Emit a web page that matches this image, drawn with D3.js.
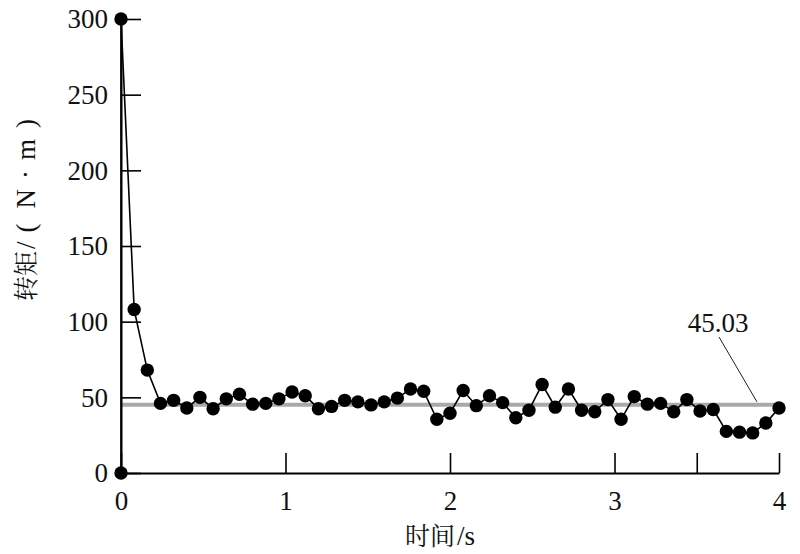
<!DOCTYPE html>
<html>
<head>
<meta charset="utf-8">
<script src="https://cdn.jsdelivr.net/npm/d3@7"></script>
<style>
  html, body { margin: 0; padding: 0; background: #fff; }
  svg { display: block; }
</style>
</head>
<body>
<svg id="chart" width="800" height="554"></svg>
<script>
// ---- data ----
const times = [0, 0, 0.08, 0.16, 0.24, 0.32, 0.40, 0.48, 0.56, 0.64, 0.72, 0.80, 0.88, 0.96,
  1.04, 1.12, 1.20, 1.28, 1.36, 1.44, 1.52, 1.60, 1.68, 1.76, 1.84, 1.92, 2.00, 2.08, 2.16,
  2.24, 2.32, 2.40, 2.48, 2.56, 2.64, 2.72, 2.80, 2.88, 2.96, 3.04, 3.12, 3.20, 3.28, 3.36,
  3.44, 3.52, 3.60, 3.68, 3.76, 3.84, 3.92, 4.00];
const torque = [0, 300, 108, 68, 46, 48, 43, 50, 42.5, 49, 52, 45.5, 46, 49,
  53.5, 51, 42.5, 44, 48, 47, 45, 47, 49.5, 55.5, 54, 35.5, 39.5, 54.5, 44.5, 51, 46.5,
  36.5, 41.5, 58.5, 43.5, 55.5, 41.5, 40.5, 48.5, 35.5, 50.5, 45.5, 46, 40.5, 48.5, 41,
  42, 27.5, 27, 26.5, 33, 43];
const meanValue = 45.03;
const meanLabel = "45.03";
const xTicks = [0, 1, 2, 3, 3.5, 4];
const xTickLabels = ["0", "1", "2", "3", "", "4"];
const yTicks = [0, 50, 100, 150, 200, 250, 300];
const yTickLabels = ["0", "50", "100", "150", "200", "250", "300"];
const xTitle = ["时间", "/s"];
const yTitleCjk = "转矩";
const yTitleParts = ["/", "(", "N", "·", "m", ")"];

// ---- layout ----
const svg = d3.select("#chart");
const x = d3.scaleLinear().domain([0, 4]).range([121, 779]);
const y = d3.scaleLinear().domain([0, 300]).range([473, 19]);
const SERIF = '"Liberation Serif"';
const CJK = '"Noto Serif CJK SC"';

// mean line
svg.append("line")
  .attr("x1", x(0)).attr("x2", x(4))
  .attr("y1", y(meanValue)).attr("y2", y(meanValue))
  .attr("stroke", "#a9a9a9").attr("stroke-width", 4);

// axes
const xAxis = d3.axisBottom(x).tickValues(xTicks)
  .tickSizeInner(-20).tickSizeOuter(0)
  .tickFormat((d, i) => xTickLabels[i]).tickPadding(14);
const gx = svg.append("g").attr("transform", `translate(0,${y(0)})`).call(xAxis);
gx.select(".domain").attr("stroke", "#000").attr("stroke-width", 2);
gx.selectAll(".tick line").attr("stroke", "#000").attr("stroke-width", 1.6);
gx.selectAll(".tick text").style("font-family", SERIF).style("font-size", "27px")
  .attr("fill", "#111").attr("dy", "0.85em");

const yAxis = d3.axisLeft(y).tickValues(yTicks)
  .tickSizeInner(-20).tickSizeOuter(0)
  .tickFormat((d, i) => yTickLabels[i]).tickPadding(13);
const gy = svg.append("g").attr("transform", `translate(${x(0)},0)`).call(yAxis);
gy.select(".domain").attr("stroke", "#000").attr("stroke-width", 2);
gy.selectAll(".tick line").attr("stroke", "#000").attr("stroke-width", 1.6);
gy.selectAll(".tick text").style("font-family", SERIF).style("font-size", "27px")
  .attr("fill", "#111").attr("dy", "0.33em");

// data line + points
const pts = times.map((t, i) => ({ t, v: torque[i] }));
svg.append("path").datum(pts)
  .attr("fill", "none").attr("stroke", "#000").attr("stroke-width", 1.6)
  .attr("d", d3.line().x(d => x(d.t)).y(d => y(d.v)));
svg.append("g").selectAll("circle").data(pts).join("circle")
  .attr("cx", d => x(d.t)).attr("cy", d => y(d.v)).attr("r", 6.7).attr("fill", "#000");

// annotation
svg.append("line")
  .attr("x1", 719).attr("y1", 337)
  .attr("x2", x(3.866)).attr("y2", y(meanValue) - 3)
  .attr("stroke", "#222").attr("stroke-width", 1);
svg.append("text").attr("x", 718).attr("y", 332).attr("text-anchor", "middle")
  .style("font-family", SERIF).style("font-size", "27px")
  .attr("fill", "#111").text(meanLabel);

// axis titles
const xt = svg.append("text").attr("x", 440).attr("y", 545).attr("text-anchor", "middle")
  .attr("fill", "#111");
xt.append("tspan").style("font-family", CJK).style("font-size", "25px").text(xTitle[0]);
xt.append("tspan").style("font-family", SERIF).style("font-size", "27px").attr("dx", 2).text(xTitle[1]);

const yt = svg.append("text").attr("transform", "translate(35,210) rotate(-90)")
  .attr("text-anchor", "middle").attr("fill", "#111");
yt.append("tspan").style("font-family", CJK).style("font-size", "25px").text(yTitleCjk);
const gaps = [2, 9, 15, 10, 10, 11];
yTitleParts.forEach((p, i) => {
  yt.append("tspan").style("font-family", SERIF).style("font-size", "27px")
    .attr("dx", gaps[i]).text(p);
});
</script>
</body>
</html>
